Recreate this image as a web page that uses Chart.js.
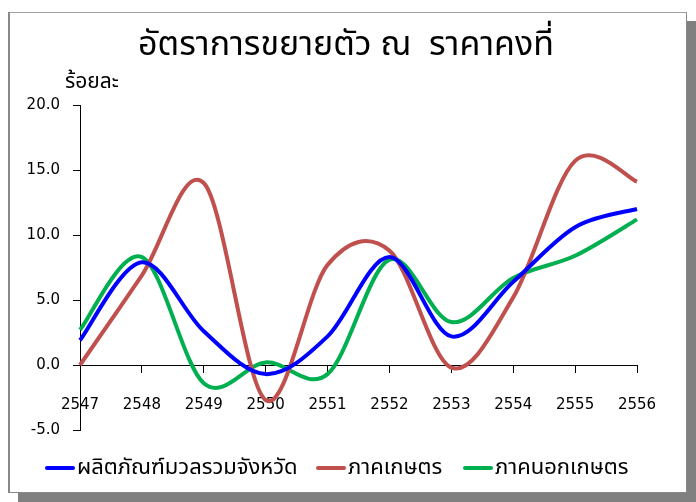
<!DOCTYPE html>
<html>
<head>
<meta charset="utf-8">
<script src="https://cdn.jsdelivr.net/npm/chart.js@4"></script>
<style>
  html, body { margin: 0; padding: 0; background: #fff; }
  #frame {
    position: absolute; left: 8px; top: 12px; width: 676px; height: 479px;
    border-top: 1px solid #a0a0a0; border-left: 2px solid #888; border-right: 1px solid #888; border-bottom: 1px solid #888;
    box-shadow: 10px 9px 0 #808080; background: #fff;
  }
  #growthChart { position: absolute; left: 0; top: 0; }
  #legend { position: absolute; left: 0; top: 453px; width: 696px; height: 30px; }
  .item { position: absolute; top: 0; height: 30px; line-height: 30px; white-space: nowrap;
    font-family: 'Noto Sans Thai', 'Loma', 'Garuda', Tahoma, 'DejaVu Sans', sans-serif; font-size: 22px; color: #000; }
  .item i { display: inline-block; width: 30px; height: 4px; vertical-align: middle; margin-right: 2px; border-radius: 2px; }
</style>
</head>
<body>
<div id="frame"></div>
<canvas id="growthChart" width="696" height="502"></canvas>
<div id="legend"></div>
<script>
const years = ["2547", "2548", "2549", "2550", "2551", "2552", "2553", "2554", "2555", "2556"];
const gppValues = [1.9, 7.9, 2.6, -0.7, 2.2, 8.3, 2.2, 6.4, 10.6, 12.0];
const agriValues = [0.0, 6.9, 14.0, -2.7, 7.7, 8.8, -0.2, 5.2, 15.7, 14.1];
const nonAgriValues = [2.7, 8.3, -1.4, 0.2, -0.7, 8.1, 3.3, 6.7, 8.4, 11.2];
const seriesNames = ["ผลิตภัณฑ์มวลรวมจังหวัด", "ภาคเกษตร", "ภาคนอกเกษตร"];
const seriesColors = ["#0000ff", "#c0504d", "#00b050"];
const titleText = "อัตราการขยายตัว ณ  ราคาคงที่";
const unitText = "ร้อยละ";

const thaiFont = "'Noto Sans Thai', 'Loma', 'Garuda', 'Tahoma', 'DejaVu Sans', sans-serif";
const tickFont = "'DejaVu Sans', Tahoma, sans-serif";

const growthChart = document.getElementById("growthChart");
const legendDiv = document.getElementById("legend");

// title and unit label, drawn by hand so the title sits in the middle of the frame
const chartTexts = {
  id: "chartTexts",
  afterDraw(chart) {
    const ctx = chart.ctx;
    const y = chart.scales.y;
    ctx.save();
    ctx.fillStyle = "#000";
    ctx.textBaseline = "middle";
    ctx.textAlign = "center";
    ctx.font = "34px " + thaiFont;
    ctx.fillText(titleText, 346, 48);
    ctx.textAlign = "left";
    ctx.font = "21px " + thaiFont;
    ctx.fillText(unitText, y.right - 15, y.top - 21);
    ctx.restore();
  },
};

// excel-like smoothing: control points at 1/6 of the neighbour chord
const excelSmooth = {
  id: "excelSmooth",
  beforeDatasetDraw(chart, args) {
    const meta = args.meta;
    meta.dataset.updateControlPoints(chart.chartArea, "x");
    const pts = meta.data;
    pts.forEach((p, i) => {
      const prev = pts[i - 1] || p;
      const next = pts[i + 1] || p;
      const dx = (next.x - prev.x) / 6;
      const dy = (next.y - prev.y) / 6;
      p.cp1x = p.x - dx;
      p.cp1y = p.y - dy;
      p.cp2x = p.x + dx;
      p.cp2y = p.y + dy;
    });
  },
};

function makeSet(label, data, color) {
  return {
    label: label,
    data: data,
    borderColor: color,
    backgroundColor: color,
    borderWidth: 4,
    pointRadius: 0,
    tension: 0.4,
    fill: false,
  };
}

const lineChart = new Chart(growthChart, {
  type: "line",
  data: {
    labels: years,
    datasets: [
      makeSet(seriesNames[0], gppValues, seriesColors[0]),
      makeSet(seriesNames[1], agriValues, seriesColors[1]),
      makeSet(seriesNames[2], nonAgriValues, seriesColors[2]),
    ],
  },
  options: {
    responsive: false,
    animation: false,
    layout: { padding: { left: 0, right: 59, top: 105, bottom: 72 } },
    plugins: {
      legend: { display: false },
      title: { display: false },
      tooltip: { enabled: false },
    },
    scales: {
      x: {
        position: { y: 0 },
        offset: false,
        grid: { drawOnChartArea: false, drawTicks: true, tickLength: 7, color: "#000", offset: false },
        border: { color: "#000", width: 1 },
        ticks: { color: "#000", font: { family: tickFont, size: 15 }, padding: 24, maxRotation: 0, autoSkip: false },
      },
      y: {
        min: -5,
        max: 20,
        grid: { drawOnChartArea: false, drawTicks: true, tickLength: 7, color: "#000" },
        border: { color: "#000", width: 1 },
        ticks: {
          stepSize: 5,
          color: "#000",
          padding: 13,
          font: { family: tickFont, size: 15 },
          callback: (v) => v.toFixed(1),
        },
        afterFit(scale) {
          scale.width = 80;
        },
      },
    },
  },
  plugins: [chartTexts, excelSmooth],
});

// legend under the plot, laid out like the original
const legendLeft = [45, 316, 463];
lineChart.data.datasets.forEach((ds, i) => {
  legendDiv.innerHTML += `<div class="item" style="left:${legendLeft[i]}px"><i style="background:${ds.borderColor}"></i>${ds.label}</div>`;
});
</script>
</body>
</html>
